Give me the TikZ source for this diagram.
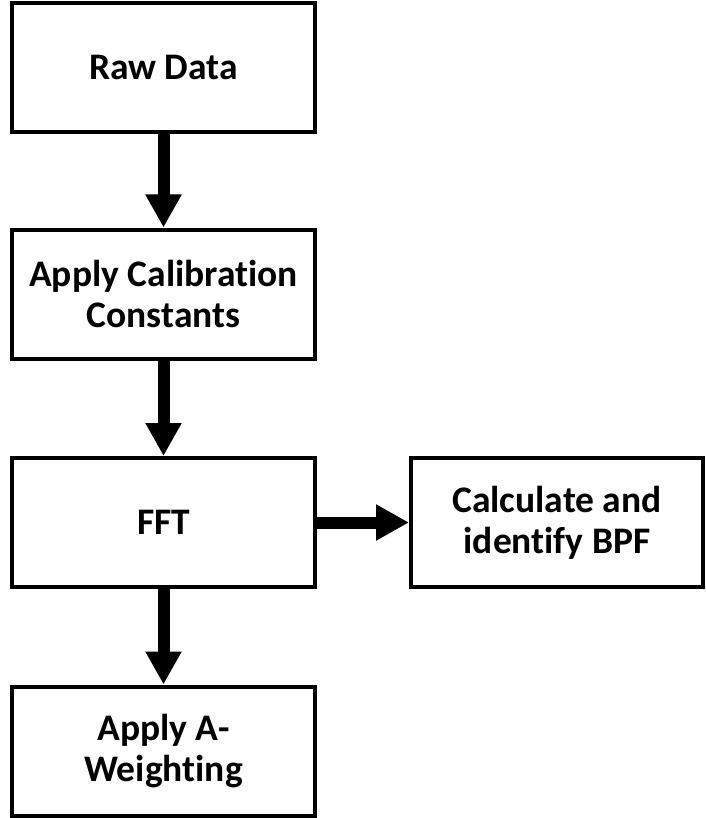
\documentclass[tikz,border=0pt]{standalone}
\usepackage{fontspec}
\setmainfont{Carlito}[Ligatures=NoCommon]
\usetikzlibrary{arrows.meta}

\tikzset{
  stage/.style={draw, line width=4pt, minimum width=303pt, minimum height=129pt,
    inner sep=0pt, align=center, font=\fontsize{37.5}{41}\selectfont\bfseries},
  flow/.style={line width=12pt, -{Triangle[width=34pt,length=33pt]}}
}

\begin{document}
\begin{tikzpicture}[x=1pt,y=-1pt]
	\useasboundingbox (0,0) rectangle (705,818);

	\node[stage] (raw) at (163.5,67.5) {Raw Data};
	\node[stage] (calib) at (163.5,294) {Apply Calibration\\Constants};
	\node[stage] (fft) at (163.5,522.5) {FFT};
	\node[stage, minimum width=292pt] (bpf) at (557,522.5) {Calculate and\\identify BPF};
	\node[stage] (aweight) at (163.5,751) {Apply A-\\Weighting};

	\draw[flow] (raw) -- (calib);
	\draw[flow] (calib) -- (fft);
	\draw[flow] (fft) -- (bpf);
	\draw[flow] (fft) -- (aweight);
\end{tikzpicture}
\end{document}
